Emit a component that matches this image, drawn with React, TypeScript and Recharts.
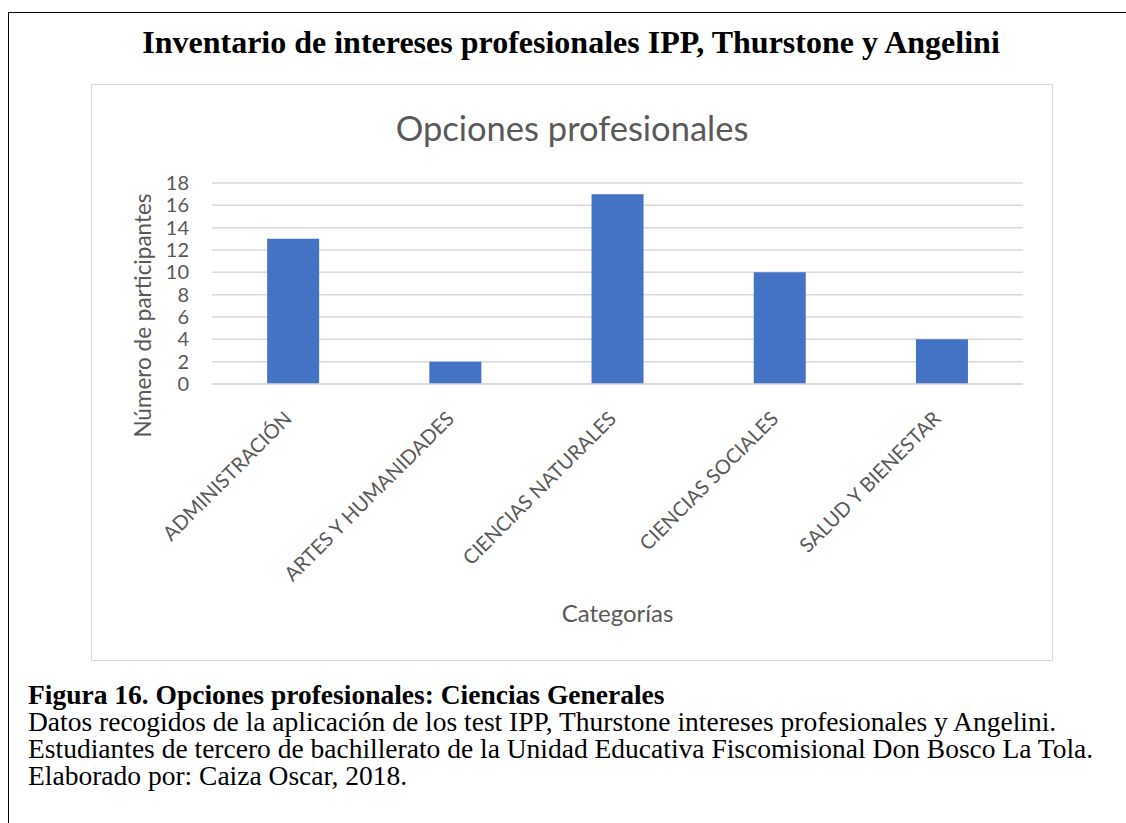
import React from "react";
import { BarChart, Bar, XAxis, YAxis, CartesianGrid, Label } from "recharts";

const categories = [
  "ADMINISTRACIÓN",
  "ARTES Y HUMANIDADES",
  "CIENCIAS NATURALES",
  "CIENCIAS SOCIALES",
  "SALUD Y BIENESTAR",
];
const participants = [13, 2, 17, 10, 4];
const yTicks = [0, 2, 4, 6, 8, 10, 12, 14, 16, 18];

const data = categories.map((c, i) => ({ name: c, value: participants[i] }));

const SANS = "Lato, 'Open Sans', sans-serif";
const SERIF = "'Liberation Serif', 'Times New Roman', serif";
const GRAY = "#595959";

const XTick = (props: any) => {
  const { x, y, payload } = props;
  return (
    <g transform={`translate(${x},${y + 28})`}>
      <text
        transform="rotate(-45)"
        textAnchor="end"
        fill={GRAY}
        fontSize={20}
        fontFamily={SANS}
      >
        {payload.value}
      </text>
    </g>
  );
};

export default function App() {
  return (
    <div
      style={{
        position: "absolute",
        left: 0,
        top: 0,
        width: 1126,
        height: 823,
        background: "#fff",
        overflow: "hidden",
      }}
    >
      <div
        style={{
          position: "absolute",
          left: 8,
          top: 12,
          width: 1200,
          height: 900,
          borderLeft: "1.5px solid #000",
          borderTop: "1.5px solid #000",
        }}
      />
      <div
        style={{
          position: "absolute",
          left: 0,
          width: 1142,
          top: 24,
          textAlign: "center",
          fontFamily: SERIF,
          fontWeight: "bold",
          fontSize: 32,
          color: "#000",
        }}
      >
        Inventario de intereses profesionales IPP, Thurstone y Angelini
      </div>
      <div
        style={{
          position: "absolute",
          left: 91,
          top: 84,
          width: 960,
          height: 575,
          border: "1.5px solid #d9d9d9",
        }}
      >
        <div
          style={{
            position: "absolute",
            left: 0,
            width: 960,
            top: 22,
            textAlign: "center",
            fontFamily: SANS,
            fontSize: 34.5,
            color: GRAY,
          }}
        >
          Opciones profesionales
        </div>
        <BarChart
          width={960}
          height={575}
          data={data}
          margin={{ top: 98, right: 29, bottom: 0, left: 0 }}
          barCategoryGap="34%"
        >
          <CartesianGrid vertical={false} stroke="#d9d9d9" strokeWidth={1.5} />
          <XAxis
            dataKey="name"
            interval={0}
            tickLine={false}
            axisLine={{ stroke: "#d9d9d9", strokeWidth: 1.5 }}
            tick={<XTick />}
            height={276}
          >
            <Label
              value="Categorías"
              position="insideBottom"
              offset={38}
              fill={GRAY}
              fontSize={24}
              fontFamily={SANS}
            />
          </XAxis>
          <YAxis
            domain={[0, 18]}
            ticks={yTicks}
            interval={0}
            tickLine={false}
            axisLine={false}
            tick={{ fill: GRAY, fontSize: 20, fontFamily: SANS }}
            tickMargin={17}
            width={120}
          >
            <Label
              value="Número de participantes"
              angle={-90}
              position="center"
              dx={-9}
              dy={32}
              fill={GRAY}
              fontSize={22.5}
              fontFamily={SANS}
            />
          </YAxis>
          <Bar dataKey="value" fill="#4472c4" isAnimationActive={false} />
        </BarChart>
      </div>
      <div
        style={{
          position: "absolute",
          left: 28,
          top: 681,
          fontFamily: SERIF,
          fontSize: 27.5,
          lineHeight: "27px",
          color: "#000",
        }}
      >
        <div style={{ fontWeight: "bold" }}>
          Figura 16. Opciones profesionales: Ciencias Generales
        </div>
        <div>
          Datos recogidos de la aplicación de los test IPP, Thurstone intereses profesionales y Angelini.
        </div>
        <div>
          Estudiantes de tercero de bachillerato de la Unidad Educativa Fiscomisional Don Bosco La Tola.
        </div>
        <div>Elaborado por: Caiza Oscar, 2018.</div>
      </div>
    </div>
  );
}
